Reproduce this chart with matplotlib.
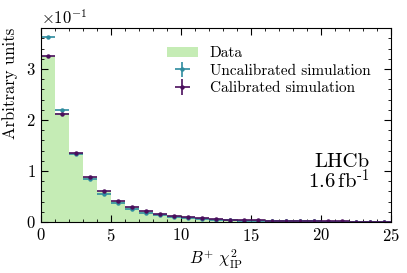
import numpy as np
import matplotlib.pyplot as plt
from matplotlib.ticker import MultipleLocator, ScalarFormatter

plt.rcParams['font.family'] = 'serif'
plt.rcParams['font.serif'] = ['cmr10']
plt.rcParams['mathtext.fontset'] = 'cm'
plt.rcParams['axes.formatter.use_mathtext'] = True
plt.rcParams['axes.unicode_minus'] = False

# bin edges of B+ chi2_IP
edges = np.arange(0, 26, 1)

# normalised yields (arbitrary units)
data = [0.325, 0.213, 0.135, 0.089, 0.060, 0.042, 0.030, 0.022, 0.016, 0.012,
        0.009, 0.007, 0.0055, 0.0045, 0.0037, 0.0030, 0.0025, 0.0020, 0.0016, 0.0013,
        0.0011, 0.0009, 0.0007, 0.0006, 0.0005]
uncal = [0.362, 0.219, 0.134, 0.085, 0.055, 0.037, 0.025, 0.018, 0.013, 0.009,
         0.007, 0.0055, 0.0043, 0.0035, 0.0028, 0.0022, 0.0018, 0.0015, 0.0012, 0.0010,
         0.0008, 0.0006, 0.0005, 0.0004, 0.0003]
cal = [0.325, 0.212, 0.135, 0.089, 0.060, 0.042, 0.030, 0.022, 0.016, 0.011,
       0.009, 0.007, 0.0055, 0.0045, 0.0037, 0.0030, 0.0025, 0.0020, 0.0016, 0.0013,
       0.0011, 0.0009, 0.0007, 0.0006, 0.0005]
uncal_err = [0.003, 0.002, 0.0015, 0.001, 0.0008, 0.0006, 0.0005, 0.0004, 0.0003, 0.0003,
             0.0002, 0.0002, 0.0002, 0.0002, 0.0001, 0.0001, 0.0001, 0.0001, 0.0001, 0.0001,
             0.0001, 0.0001, 0.0001, 0.0001, 0.0001]
cal_err = uncal_err

centers = 0.5 * (edges[:-1] + edges[1:])
halfw = 0.5 * np.diff(edges)

fig = plt.figure(figsize=(4.07, 2.73), dpi=100)
ax = fig.add_axes([0.10, 0.187, 0.861, 0.71])

ax.hist(centers, bins=edges, weights=data, histtype='stepfilled',
        color='#c5ecb5', label='Data')
ax.errorbar(centers, uncal, xerr=halfw, yerr=uncal_err, fmt='o', ms=2.2,
            color='#2e8b9e', elinewidth=1.2, capsize=0, label='Uncalibrated simulation')
ax.errorbar(centers, cal, xerr=halfw, yerr=cal_err, fmt='o', ms=2.2,
            color='#4a0e5c', elinewidth=1.2, capsize=0, label='Calibrated simulation')

ax.set_xlim(0, 25)
ax.set_ylim(0, 0.38)
ax.xaxis.set_major_locator(MultipleLocator(5))
ax.xaxis.set_minor_locator(MultipleLocator(1))
ax.yaxis.set_major_locator(MultipleLocator(0.1))
ax.yaxis.set_minor_locator(MultipleLocator(0.02))
fmt = ScalarFormatter(useMathText=True)
fmt.set_powerlimits((0, 0))
ax.yaxis.set_major_formatter(fmt)
ax.tick_params(which='both', direction='in', top=True, right=True, labelsize=12)
ax.tick_params(which='major', length=5)
ax.tick_params(which='minor', length=2.5)
ax.yaxis.get_offset_text().set_fontsize(12)

ax.set_xlabel(r'$B^{+}\ \chi^{2}_{\mathrm{IP}}$', fontsize=12, labelpad=3)
ax.set_ylabel('Arbitrary units', fontsize=12, loc='top', labelpad=6)

ax.legend(loc='upper left', bbox_to_anchor=(0.33, 0.96), frameon=False, fontsize=11,
          handlelength=2.0, labelspacing=0.25, handletextpad=0.8, borderpad=0.2)

ax.text(23.45, 0.135, 'LHCb\n' + r'1.6$\,$fb$^{\text{-1}}$', ha='right', va='top',
        fontsize=15, linespacing=0.9)

fig.savefig('out.png', dpi=100)
